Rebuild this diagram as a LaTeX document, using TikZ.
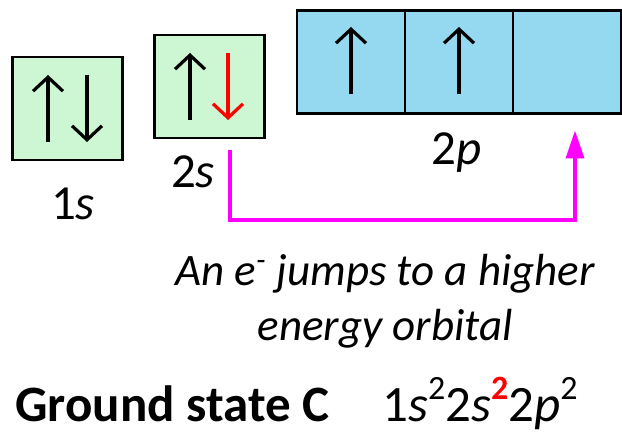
\documentclass[tikz,border=0pt]{standalone}
\usepackage{fontspec}
\setmainfont{Carlito}
\usetikzlibrary{arrows.meta,positioning}
\definecolor{sgreen}{RGB}{205,247,210}
\definecolor{pblue}{RGB}{148,217,240}
\definecolor{jumpmag}{RGB}{255,0,255}
\newcommand\supnum[1]{\raisebox{11pt}{\fontsize{17}{17}\selectfont #1}}

\begin{document}
\begin{tikzpicture}[
  x=0.5pt, y=0.5pt,
  orb/.style={draw, line width=1.3pt, outer sep=0pt, inner sep=0pt, minimum height=51.5pt},
  sorb/.style={orb, fill=sgreen, minimum width=55pt},
  porb/.style={orb, fill=pblue, minimum width=54pt},
  spin/.style={-{Straight Barb[length=7pt,width=15pt]}, line width=1.6pt},
  lbl/.style={font=\fontsize{24.5}{28}\selectfont, inner sep=0pt},
  jump/.style={-{Triangle[length=14pt,width=9pt]}, line width=1.8pt, jumpmag}
]
\useasboundingbox (0,0) rectangle (622,433);

% orbital boxes
\node[sorb] (s1) at (67.5,324.5) {};
\node[sorb] (s2) at (209.5,346.5) {};
\node[porb] (p1) at (351,371) {};
\node[porb, right=0pt of p1] (p2) {};
\node[porb, right=0pt of p2] (p3) {};

% electrons
\draw[spin] ([xshift=-9.75pt,yshift=-16.75pt]s1.center) -- ++(0,67);
\draw[spin] ([xshift=9.75pt,yshift=16.75pt]s1.center) -- ++(0,-67);
\draw[spin] ([xshift=-9.75pt,yshift=-16.75pt]s2.center) -- ++(0,67);
\draw[spin, red] ([xshift=9.25pt,yshift=16.75pt]s2.center) -- ++(0,-67);
\draw[spin] ([yshift=-16pt]p1.center) -- ++(0,67);
\draw[spin] ([yshift=-16pt]p2.center) -- ++(0,67);

% labels
\node[lbl, anchor=base] (l1s) at (73,213) {1\textit{s}};
\node[lbl, anchor=base] (l2s) at (193,245) {2\textit{s}};
\node[lbl, anchor=base] (l2p) at (457,268) {2\textit{p}};

% promotion
\draw[jump] ([xshift=10.25pt,yshift=-6pt]s2.south) -- ++(0,-70) -| ([xshift=4pt,yshift=-8.5pt]p3.south);
\node[lbl, anchor=base, align=center, font=\fontsize{22.5}{27.5pt}\selectfont\itshape] (note) at (385,92)
  {An e\textsuperscript{-} jumps to a higher\\energy orbital};

% configuration
\node[lbl, anchor=base west, font=\fontsize{25.5}{28}\selectfont\bfseries] (gs) at (15,11) {Ground state C};
\node[lbl, anchor=base west, font=\fontsize{25.5}{28}\selectfont] (config) at (382,11)
  {1\textit{s}\supnum{2}2\textit{s}{\color{red}\bfseries\supnum{2}}2\textit{p}\supnum{2}};
\end{tikzpicture}
\end{document}
